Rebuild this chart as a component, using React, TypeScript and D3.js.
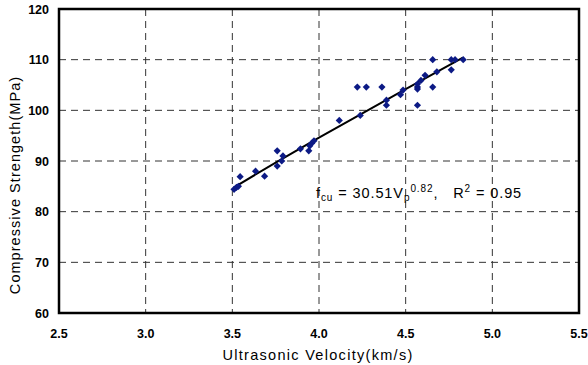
import React from "react";
import * as d3 from "d3";

const velocity = [3.51, 3.524, 3.535, 3.545, 3.634, 3.686, 3.759, 3.759, 3.785, 3.792, 3.893, 3.941, 3.947, 3.958, 3.971, 4.117, 4.221, 4.238, 4.273, 4.363, 4.389, 4.389, 4.47, 4.485, 4.568, 4.568, 4.568, 4.568, 4.588, 4.612, 4.656, 4.656, 4.68, 4.763, 4.763, 4.785, 4.832];
const strength = [84.4, 84.8, 85.0, 86.9, 88.0, 87.0, 92.0, 89.0, 90.0, 91.0, 92.4, 92.0, 93.0, 93.5, 94.0, 98.0, 104.6, 99.0, 104.6, 104.6, 102.0, 101.0, 103.1, 104.0, 104.6, 104.2, 105.2, 101.0, 105.9, 106.9, 110.0, 104.6, 107.6, 110.0, 108.0, 110.0, 110.0];

const fitV = [3.51, 3.75, 4.0, 4.25, 4.5, 4.83];
const fitF = [84.8, 89.7, 94.6, 99.4, 104.2, 110.4];

const xTicks = [2.5, 3.0, 3.5, 4.0, 4.5, 5.0, 5.5];
const yTicks = [60, 70, 80, 90, 100, 110, 120];

const W = 588, H = 365;
const L = 59, R = 579, T = 9, B = 313;

export default function App() {
  const x = d3.scaleLinear().domain([2.5, 5.5]).range([L, R]);
  const y = d3.scaleLinear().domain([60, 120]).range([B, T]);
  const line = d3.line<number>().x((d) => x(fitV[d])).y((d) => y(fitF[d]))(fitV.map((_, i) => i)) || "";
  const font = "'Liberation Sans', Arial, sans-serif";
  const s = 3.6;
  return (
    <svg width={W} height={H} style={{ position: "absolute", left: 0, top: 0, background: "#fff" }} fontFamily={font}>
      {xTicks.slice(1, -1).map((t) => (
        <line key={"gx" + t} x1={x(t)} x2={x(t)} y1={T} y2={B} stroke="#333" strokeWidth={1} strokeDasharray="7,5" />
      ))}
      {yTicks.slice(1, -1).map((t) => (
        <line key={"gy" + t} x1={L} x2={R} y1={y(t)} y2={y(t)} stroke="#333" strokeWidth={1} strokeDasharray="7,5" />
      ))}
      <path d={line} fill="none" stroke="#000" strokeWidth={2} />
      {velocity.map((v, i) => {
        const cx = x(v), cy = y(strength[i]);
        return <path key={i} d={`M${cx},${cy - s}L${cx + s},${cy}L${cx},${cy + s}L${cx - s},${cy}Z`} fill="#0c1a85" />;
      })}
      <rect x={L} y={T} width={R - L} height={B - T} fill="none" stroke="#000" strokeWidth={2.5} />
      {yTicks.map((t) => (
        <text key={"yl" + t} x={49} y={y(t) + 4.5} textAnchor="end" fontSize={12.5} fontWeight="bold">{t}</text>
      ))}
      {xTicks.map((t) => (
        <text key={"xl" + t} x={x(t)} y={338} textAnchor="middle" fontSize={12.5} fontWeight="bold">{t.toFixed(1)}</text>
      ))}
      <text x={318} y={360} textAnchor="middle" fontSize={14.5} letterSpacing={1.3} fontWeight={500}>Ultrasonic Velocity(km/s)</text>
      <text transform={`translate(20,185) rotate(-90)`} textAnchor="middle" fontSize={14.5} letterSpacing={1.05}>Compressive Strengeth(MPa)</text>
      <text x={316} y={198} fontSize={14.5} letterSpacing={0.9} style={{ whiteSpace: "pre" }}>
        <tspan>f</tspan>
        <tspan fontSize={10} dy={3}>cu</tspan>
        <tspan dy={-3}> = 30.51V</tspan>
        <tspan fontSize={10} dy={3}>p</tspan>
        <tspan fontSize={10} dy={-9}>0.82</tspan>
        <tspan dy={6}>,   R</tspan>
        <tspan fontSize={10} dy={-6}>2</tspan>
        <tspan dy={6}> = 0.95</tspan>
      </text>
    </svg>
  );
}
